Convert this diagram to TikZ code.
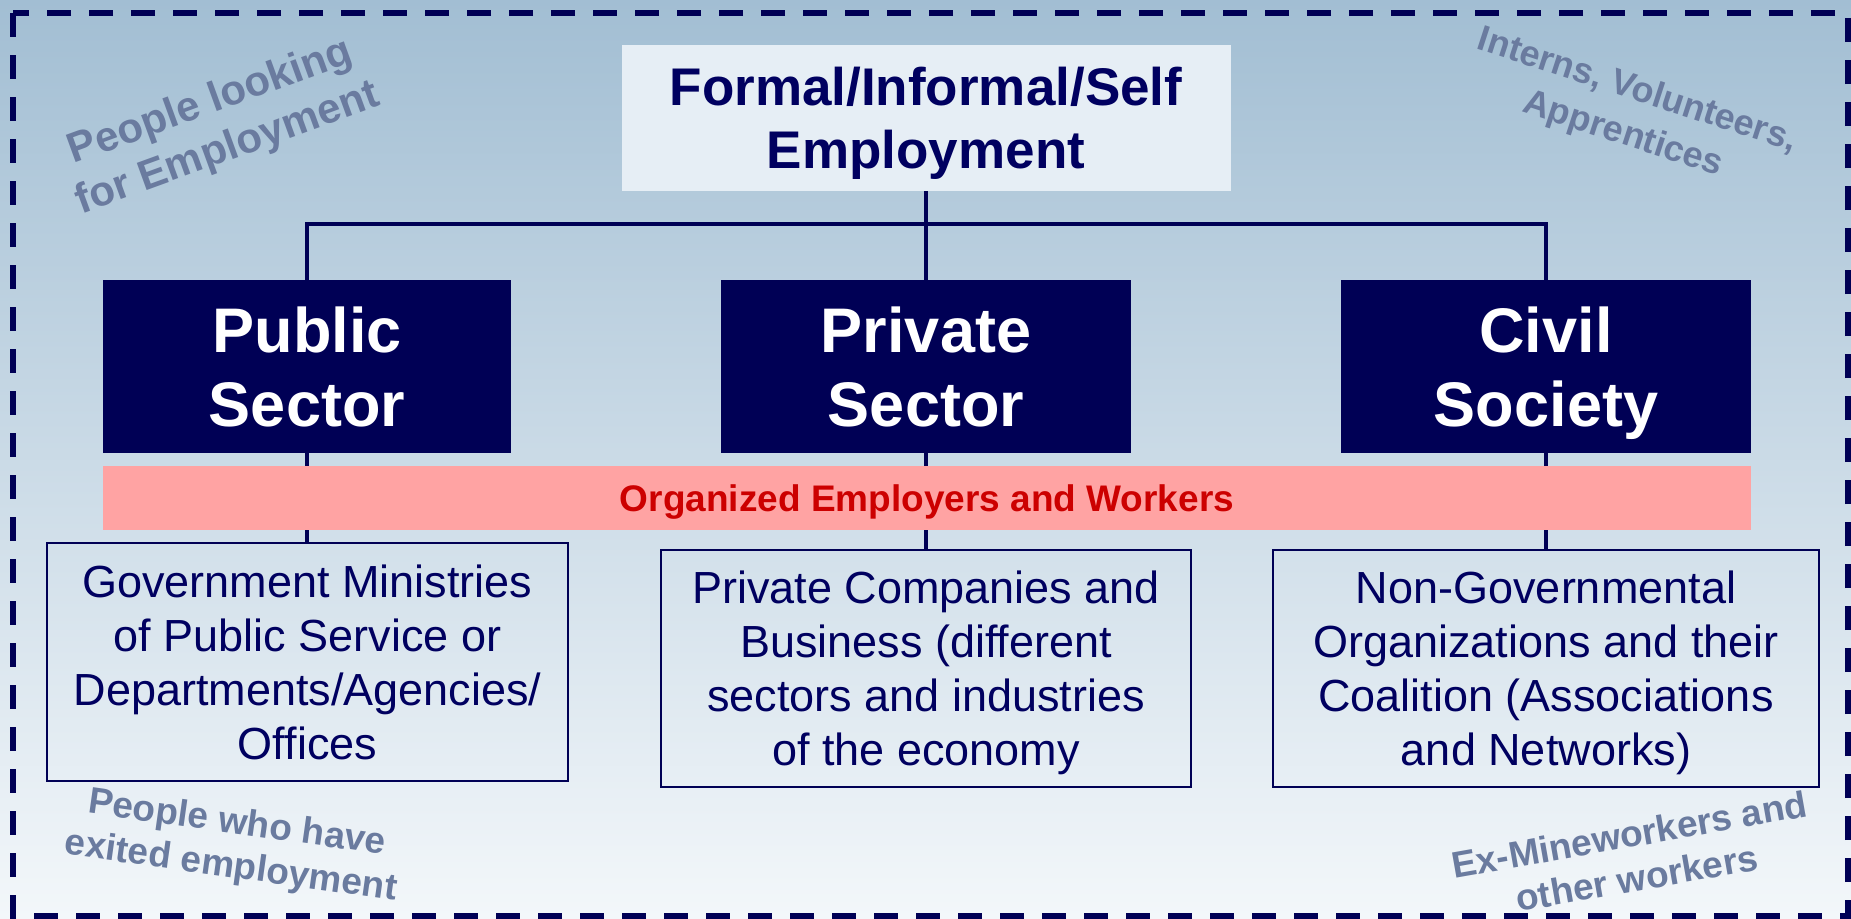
\documentclass[tikz,border=0pt]{standalone}
\usepackage{fontspec}
\setmainfont{Liberation Sans}
\definecolor{navy}{HTML}{000055}
\definecolor{navytext}{HTML}{000060}
\definecolor{bgtop}{HTML}{A2BED3}
\definecolor{bgbot}{HTML}{F3F7FA}
\definecolor{topfill}{HTML}{E6EEF5}
\definecolor{pinkbar}{HTML}{FFA3A3}
\definecolor{redtext}{HTML}{CC0000}
\definecolor{labc}{HTML}{6A7B9F}
\newcommand\nodepth[1]{\raisebox{0pt}[\height][0pt]{#1}}
\tikzset{
  conn/.style={draw=navy, line width=2.25pt},
  topbox/.style={fill=topfill, text=navytext, align=center, inner sep=0pt,
    font=\fontsize{26.5}{31.5}\selectfont\bfseries,
    minimum width=304.5pt, minimum height=73pt},
  sectorbox/.style={fill=navy, text=white, align=center, inner sep=0pt,
    font=\fontsize{31.5}{37}\selectfont\bfseries,
    minimum width=205pt, minimum height=86.5pt},
  pinkbox/.style={fill=pinkbar, text=redtext, align=center, inner sep=0pt,
    font=\fontsize{18.5}{22}\selectfont\bfseries,
    minimum width=824pt, minimum height=32pt},
  lowbox/.style={draw=navy, line width=1pt, text=navytext, align=center, inner sep=0pt,
    font=\fontsize{22.5}{27}\selectfont, minimum height=118.5pt},
  lab/.style={text=labc, align=center, inner sep=0pt, font=\bfseries},
  frame/.style={draw=navy, line width=2.75pt, dash pattern=on 12pt off 9pt}
}
\begin{document}
\begin{tikzpicture}[x=0.5pt,y=-0.5pt]
\useasboundingbox (0,0) rectangle (1851,918);
\shade[top color=bgtop, bottom color=bgbot] (0,0) rectangle (1851,918);
\draw[frame] (13,13) rectangle (1848,916);

% corner labels
\node[lab, font=\fontsize{21}{25}\selectfont\bfseries, rotate=20] (lookfor) at (219,126) {People looking\\for Employment};
\node[lab, font=\fontsize{18}{23}\selectfont\bfseries, rotate=-18] (interns) at (1630,113) {Interns, Volunteers,\\Apprentices};
\node[lab, font=\fontsize{18.5}{22}\selectfont\bfseries, rotate=-8] (exited) at (234,846) {People who have\\exited employment};
\node[lab, font=\fontsize{18.5}{22}\selectfont\bfseries, rotate=10] (exmine) at (1633,856) {Ex-Mineworkers and\\other workers};

% main nodes
\node[topbox] (top) at (926,118) {Formal/Informal/Self\\\nodepth{Employment}};
\node[sectorbox, minimum width=204pt] (pub) at (307,366.5) {Public\\Sector};
\node[sectorbox] (priv) at (926,366.5) {Private\\Sector};
\node[sectorbox] (civ) at (1546,366.5) {Civil\\\nodepth{Society}};

\node[lowbox, minimum width=260.5pt, minimum height=119pt] (publow) at (307.5,662) {Government Ministries\\of Public Service or\\Departments/Agencies/\\Offices};
\node[lowbox, minimum width=265pt] (privlow) at (926,668.5) {Private Companies and\\Business (different\\sectors and industries\\\nodepth{of the economy}};
\node[lowbox, minimum width=273pt] (civlow) at (1546,668.5) {Non-Governmental\\Organizations and their\\Coalition (Associations\\\nodepth{and Networks)}};

% connectors
\coordinate (hub) at (926,224);
\draw[conn] (top.south) -- (hub);
\draw[conn] (pub.north) |- (hub) -| (civ.north);
\draw[conn] (hub) -- (priv.north);
\draw[conn] (pub.south) -- (pub.south |- publow.north);
\draw[conn] (priv.south) -- (privlow.north);
\draw[conn] (civ.south) -- (civlow.north);

% organized employers bar (drawn over the connectors)
\node[pinkbox] (org) at (927,498) {\nodepth{Organized Employers and Workers}};
\end{tikzpicture}
\end{document}
